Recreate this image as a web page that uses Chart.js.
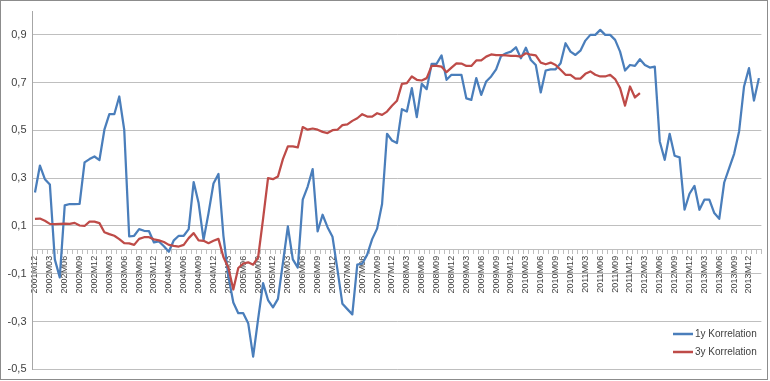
<!DOCTYPE html>
<html>
<head>
<meta charset="utf-8">
<script src="https://cdn.jsdelivr.net/npm/chart.js@4.4.1/dist/chart.umd.min.js"></script>
<style>
  html, body { margin: 0; padding: 0; background: #ffffff; }
  canvas { display: block; }
</style>
</head>
<body>
<canvas id="c" width="770" height="381"></canvas>
<script>
// ---- data ----
const categories = [
  "2001M12",
  "2002M01","2002M02","2002M03","2002M04","2002M05","2002M06","2002M07","2002M08","2002M09","2002M10","2002M11","2002M12",
  "2003M01","2003M02","2003M03","2003M04","2003M05","2003M06","2003M07","2003M08","2003M09","2003M10","2003M11","2003M12",
  "2004M01","2004M02","2004M03","2004M04","2004M05","2004M06","2004M07","2004M08","2004M09","2004M10","2004M11","2004M12",
  "2005M01","2005M02","2005M03","2005M04","2005M05","2005M06","2005M07","2005M08","2005M09","2005M10","2005M11","2005M12",
  "2006M01","2006M02","2006M03","2006M04","2006M05","2006M06","2006M07","2006M08","2006M09","2006M10","2006M11","2006M12",
  "2007M01","2007M02","2007M03","2007M04","2007M05","2007M06","2007M07","2007M08","2007M09","2007M10","2007M11","2007M12",
  "2008M01","2008M02","2008M03","2008M04","2008M05","2008M06","2008M07","2008M08","2008M09","2008M10","2008M11","2008M12",
  "2009M01","2009M02","2009M03","2009M04","2009M05","2009M06","2009M07","2009M08","2009M09","2009M10","2009M11","2009M12",
  "2010M01","2010M02","2010M03","2010M04","2010M05","2010M06","2010M07","2010M08","2010M09","2010M10","2010M11","2010M12",
  "2011M01","2011M02","2011M03","2011M04","2011M05","2011M06","2011M07","2011M08","2011M09","2011M10","2011M11","2011M12",
  "2012M01","2012M02","2012M03","2012M04","2012M05","2012M06","2012M07","2012M08","2012M09","2012M10","2012M11","2012M12",
  "2013M01","2013M02","2013M03","2013M04","2013M05","2013M06","2013M07","2013M08","2013M09","2013M10","2013M11","2013M12",
  "2014M01","2014M02"
];

const korr1y = [
  0.24, 0.353, 0.296, 0.274, -0.04, -0.115, 0.186, 0.192, 0.192, 0.193,
  0.366, 0.38, 0.391, 0.376, 0.503, 0.568, 0.568, 0.642, 0.503, 0.056,
  0.059, 0.087, 0.08, 0.078, 0.031, 0.035, 0.015, -0.008, 0.04, 0.059,
  0.059, 0.087, 0.284, 0.196, 0.042, 0.154, 0.278, 0.318, 0.06, -0.11,
  -0.22, -0.265, -0.265, -0.307, -0.447, -0.29, -0.139, -0.21, -0.241, -0.205,
  -0.055, 0.098, -0.04, -0.074, 0.21, 0.265, 0.338, 0.077, 0.147, 0.095,
  0.055, -0.083, -0.226, -0.248, -0.27, -0.062, -0.058, -0.02, 0.045, 0.089,
  0.192, 0.486, 0.458, 0.447, 0.589, 0.579, 0.677, 0.556, 0.695, 0.673,
  0.779, 0.779, 0.814, 0.712, 0.733, 0.733, 0.733, 0.634, 0.628, 0.719,
  0.649, 0.705, 0.726, 0.756, 0.812, 0.823, 0.83, 0.848, 0.802, 0.846,
  0.795, 0.774, 0.659, 0.751, 0.756, 0.756, 0.781, 0.865, 0.83, 0.816,
  0.834, 0.876, 0.9, 0.9, 0.921, 0.9, 0.9, 0.879, 0.83, 0.751,
  0.774, 0.77, 0.798, 0.774, 0.763, 0.767, 0.454, 0.377, 0.486, 0.394,
  0.387, 0.168, 0.235, 0.268, 0.168, 0.21, 0.21, 0.154, 0.13, 0.282,
  0.342, 0.402, 0.496, 0.684, 0.761, 0.625, 0.719
];

const korr3y = [
  0.13, 0.131, 0.122, 0.109, 0.108, 0.109, 0.11, 0.109, 0.113, 0.102,
  0.1, 0.118, 0.118, 0.112, 0.074, 0.066, 0.059, 0.045, 0.028, 0.027,
  0.021, 0.046, 0.053, 0.053, 0.044, 0.04, 0.033, 0.021, 0.017, 0.014,
  0.021, 0.049, 0.07, 0.04, 0.038, 0.028, 0.038, 0.046, -0.03, -0.075,
  -0.166, -0.076, -0.057, -0.052, -0.062, -0.032, 0.13, 0.30, 0.296, 0.307,
  0.38, 0.433, 0.433, 0.429, 0.514, 0.503, 0.508, 0.503, 0.494, 0.489,
  0.501, 0.503, 0.522, 0.525, 0.54, 0.551, 0.568, 0.558, 0.558, 0.572,
  0.565, 0.579, 0.603, 0.624, 0.695, 0.698, 0.726, 0.712, 0.709, 0.719,
  0.77, 0.77, 0.767, 0.744, 0.763, 0.781, 0.78, 0.77, 0.77, 0.793,
  0.793, 0.809, 0.818, 0.815, 0.815, 0.814, 0.812, 0.812, 0.809, 0.823,
  0.817, 0.814, 0.784, 0.777, 0.784, 0.774, 0.754, 0.733, 0.733, 0.717,
  0.717, 0.737, 0.747, 0.733, 0.726, 0.726, 0.733, 0.715, 0.677, 0.604,
  0.684, 0.638, 0.656,
  null, null, null, null, null, null, null, null, null, null, null, null,
  null, null, null, null, null, null, null, null, null, null, null, null
];

const seriesNames = ["1y Korrelation", "3y Korrelation"];
const yTickValues = [-0.5, -0.3, -0.1, 0.1, 0.3, 0.5, 0.7, 0.9];
const labelEvery = 3;

// ---- style ----
const FONT = "'Liberation Sans', Arial, sans-serif";
const TEXT = "#404040";
const GRID = "#bfbfbf";
const BLUE = "#4a7ebb";
const RED = "#be4b48";

const frame = {
  id: 'frame',
  beforeDraw(chart) {
    const ctx = chart.ctx;
    ctx.save();
    ctx.fillStyle = '#ffffff';
    ctx.fillRect(0, 0, chart.width, chart.height);
    ctx.restore();
  },
  afterDraw(chart) {
    const ctx = chart.ctx;
    ctx.save();
    ctx.strokeStyle = '#8c8c8c';
    ctx.lineWidth = 1;
    ctx.strokeRect(0.5, 0.5, 767, 379);
    // legend
    const items = chart.data.datasets;
    ctx.font = "10px " + FONT;
    ctx.textBaseline = 'middle';
    ctx.textAlign = 'left';
    const lx = 673, ly = 334, gap = 18;
    items.forEach((ds, k) => {
      const y = ly + k * gap;
      ctx.strokeStyle = ds.borderColor;
      ctx.lineWidth = 2.5;
      ctx.beginPath();
      ctx.moveTo(lx, y);
      ctx.lineTo(lx + 20, y);
      ctx.stroke();
      ctx.fillStyle = TEXT;
      ctx.fillText(ds.label, lx + 22, y + 0.5);
    });
    ctx.restore();
  }
};

new Chart(document.getElementById('c'), {
  type: 'line',
  data: {
    labels: categories,
    datasets: [
      { label: seriesNames[0], data: korr1y, borderColor: BLUE, backgroundColor: BLUE,
        borderWidth: 2.25, pointRadius: 0, tension: 0, order: 1, borderJoinStyle: 'round' },
      { label: seriesNames[1], data: korr3y, borderColor: RED, backgroundColor: RED,
        borderWidth: 2.25, pointRadius: 0, tension: 0, order: 0, borderJoinStyle: 'round' }
    ]
  },
  options: {
    responsive: false,
    devicePixelRatio: 1,
    animation: false,
    events: [],
    layout: { padding: { left: 0, top: 11, right: 8.6, bottom: 11.7 } },
    plugins: { legend: { display: false }, tooltip: { enabled: false } },
    scales: {
      x: {
        type: 'category',
        position: { y: 0 },
        offset: true,
        grid: { display: true, drawOnChartArea: false, drawTicks: true, tickLength: 4,
                offset: true, color: GRID, lineWidth: 1 },
        border: { display: true, color: GRID, width: 1 },
        ticks: {
          autoSkip: false, minRotation: 90, maxRotation: 90, padding: 2,
          color: TEXT, font: { family: FONT, size: 9 },
          callback: function(value, index) { return index % labelEvery === 0 ? categories[index] : ''; }
        },
        afterFit(scale) { scale.paddingLeft = 0; scale.paddingRight = 0; }
      },
      y: {
        min: -0.5, max: 1.0,
        grid: { color: GRID, lineWidth: 1, drawTicks: false },
        border: { display: true, color: '#a6a6a6', width: 1 },
        ticks: {
          padding: 6, color: TEXT, font: { family: FONT, size: 11 },
          callback: v => v.toFixed(1).replace('.', ',')
        },
        afterBuildTicks(scale) { scale.ticks = yTickValues.map(v => ({ value: v })); },
        afterFit(scale) { scale.width = 32.5; scale.paddingTop = 0; scale.paddingBottom = 0; }
      }
    }
  },
  plugins: [frame]
});
</script>
</body>
</html>
